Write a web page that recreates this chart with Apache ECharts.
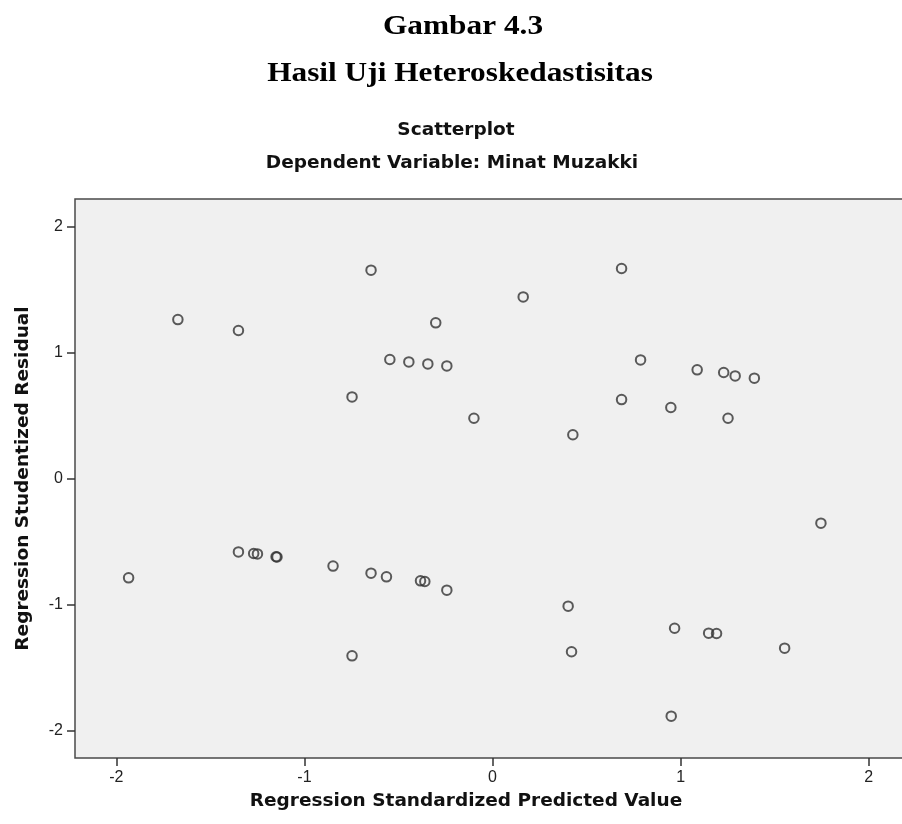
<!DOCTYPE html>
<html>
<head>
<meta charset="utf-8">
<script src="https://cdn.jsdelivr.net/npm/echarts@6/dist/echarts.min.js"></script>
<style>
  html, body { margin: 0; padding: 0; background: #fff; }
  #main { width: 902px; height: 824px; }
</style>
</head>
<body>
<div id="main"></div>
<script>
// nilai prediksi terstandar (sumbu X)
var predicted = [
    -1.673, -1.351, -0.646, 0.163, -0.302, -0.546, -0.445, -0.344, -0.243, -0.747,
    -0.099, 0.427, 0.686, 0.787, 1.088, 1.229, 1.290, 1.392, 0.686, 0.948, 1.252,
    -1.935, -1.351, -1.270, -1.250, -1.151, -1.146, -0.848, -0.646, -0.564, -0.383,
    -0.360, -0.243, -0.747, 0.402, 0.420, 1.746, 0.968, 1.149, 1.191, 1.553, 0.950
];
// residual studentized (sumbu Y)
var residual = [
    1.263, 1.176, 1.655, 1.443, 1.237, 0.946, 0.927, 0.911, 0.895, 0.649,
    0.480, 0.349, 1.668, 0.943, 0.864, 0.843, 0.816, 0.798, 0.628, 0.565, 0.480,
    -0.787, -0.581, -0.594, -0.597, -0.620, -0.622, -0.694, -0.750, -0.779, -0.811,
    -0.816, -0.885, -1.406, -1.012, -1.374, -0.353, -1.187, -1.226, -1.229, -1.345, -1.885
];
var tickValues = [-2, -1, 0, 1, 2];

var points = [];
for (var i = 0; i < predicted.length; i++) {
    points.push([predicted[i], residual[i]]);
}

var myChart = echarts.init(document.getElementById('main'));
var sans = '"DejaVu Sans", sans-serif';
var serif = '"Liberation Serif", "Times New Roman", serif';
var tickFont = '"Liberation Sans", Arial, sans-serif';

var option = {
    backgroundColor: '#ffffff',
    animation: false,
    graphic: [
        { type: 'text', x: 463, y: 27, scaleX: 1.16,
          style: { text: 'Gambar 4.3', fontFamily: serif, fontWeight: 'bold', fontSize: 27, fill: '#000', align: 'center', verticalAlign: 'middle' } },
        { type: 'text', x: 460, y: 74, scaleX: 1.16,
          style: { text: 'Hasil Uji Heteroskedastisitas', fontFamily: serif, fontWeight: 'bold', fontSize: 27, fill: '#000', align: 'center', verticalAlign: 'middle' } },
        { type: 'text', x: 456, y: 130,
          style: { text: 'Scatterplot', fontFamily: sans, fontWeight: 'bold', fontSize: 18.5, fill: '#111', align: 'center', verticalAlign: 'middle' } },
        { type: 'text', x: 452, y: 163,
          style: { text: 'Dependent Variable: Minat Muzakki', fontFamily: sans, fontWeight: 'bold', fontSize: 18.5, fill: '#111', align: 'center', verticalAlign: 'middle' } },
        { type: 'text', x: 466, y: 801,
          style: { text: 'Regression Standardized Predicted Value', fontFamily: sans, fontWeight: 'bold', fontSize: 18.5, fill: '#111', align: 'center', verticalAlign: 'middle' } }
    ],
    grid: {
        left: 75,
        right: -3,
        top: 199,
        bottom: 66,
        outerBoundsMode: 'none',
        containLabel: false,
        show: true,
        backgroundColor: '#f0f0f0',
        borderColor: '#4a4a4a',
        borderWidth: 1.5
    },
    xAxis: {
        type: 'value',
        min: -2.22,
        max: 2.193,
        axisLine: { show: false, onZero: false },
        axisTick: { show: true, length: 8, customValues: tickValues, lineStyle: { color: '#333', width: 1.5 } },
        axisLabel: { customValues: tickValues, margin: 12, fontFamily: tickFont, fontSize: 16, color: '#222' },
        splitLine: { show: false }
    },
    yAxis: {
        type: 'value',
        min: -2.217,
        max: 2.22,
        name: 'Regression Studentized Residual',
        nameLocation: 'middle',
        nameRotate: 90,
        nameGap: 42,
        nameTextStyle: { fontFamily: sans, fontWeight: 'bold', fontSize: 18.5, color: '#111' },
        axisLine: { show: false, onZero: false },
        axisTick: { show: true, length: 8, customValues: tickValues, lineStyle: { color: '#333', width: 1.5 } },
        axisLabel: { customValues: tickValues, margin: 12, fontFamily: tickFont, fontSize: 16, color: '#222' },
        splitLine: { show: false }
    },
    series: [{
        type: 'scatter',
        data: points,
        symbol: 'circle',
        symbolSize: 9.5,
        itemStyle: {
            color: 'rgba(0,0,0,0)',
            borderColor: '#333',
            borderWidth: 2
        }
    }]
};
myChart.setOption(option);
</script>
</body>
</html>
